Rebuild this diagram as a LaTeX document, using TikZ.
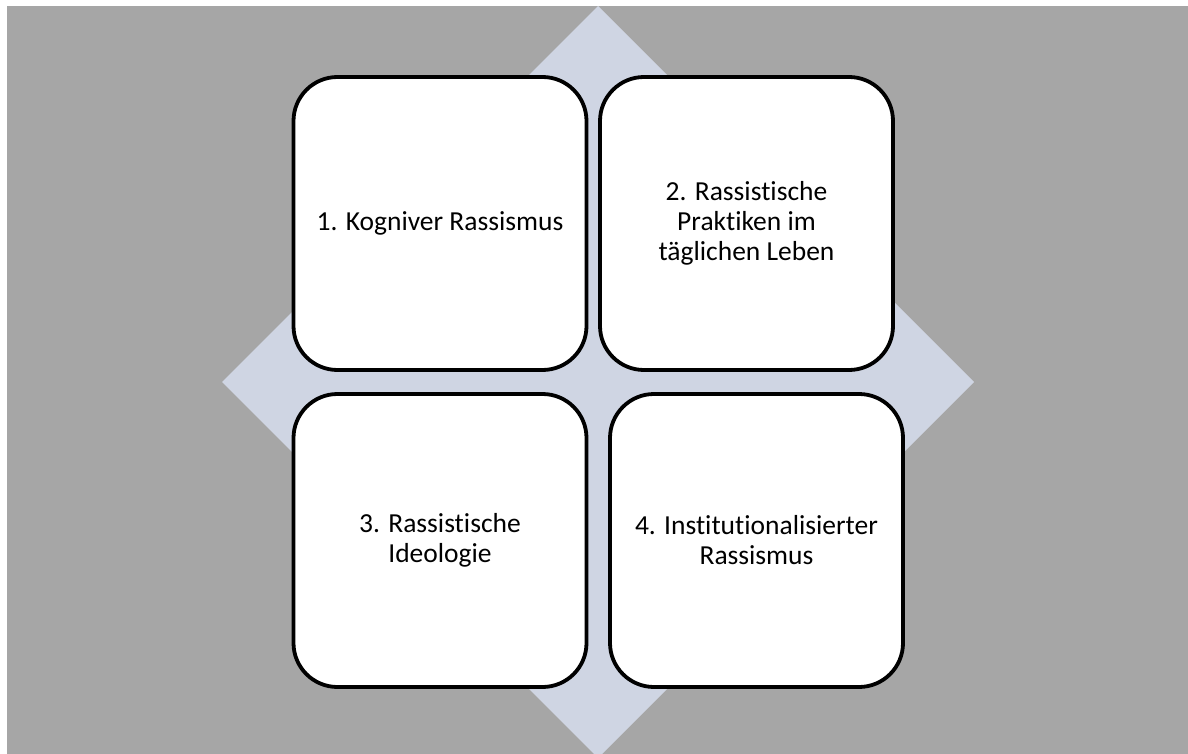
\documentclass[tikz,border=0pt]{standalone}
\usepackage{fontspec}
\setmainfont{Carlito}[Ligatures=NoCommon]
\definecolor{hgrau}{HTML}{A6A6A6}
\definecolor{raute}{HTML}{CFD5E3}

\begin{document}
\begin{tikzpicture}[x=1pt,y=-1pt]
\tikzstyle{every node}+=[inner sep=0pt]
\tikzstyle{feld}=[draw=black, line width=3.8pt, fill=white, rounded corners=44pt,
  minimum width=293pt, minimum height=293pt, align=center,
  font=\fontsize{27.5}{30}\selectfont]
\useasboundingbox (0,0) rectangle (1188,754);
\fill [white] (0,0) rectangle (1188,754);
\fill [hgrau] (7,6) rectangle (1188,754);
\begin{scope}
\clip (7,6) rectangle (1188,754);
\fill [raute] (598,6) -- (974,382) -- (598,758) -- (222,382) -- cycle;
\end{scope}
\node [feld] (f1) at (440,223.5) {1. Kogniver Rassismus};
\node [feld] (f2) at (746.5,223.5) {2. Rassistische\\Praktiken im\\täglichen Leben};
\node [feld] (f3) at (440,540.5) {3. Rassistische\\Ideologie};
\node [feld] (f4) at (756.5,540.5) {4. Institutionalisierter\\Rassismus};
\end{tikzpicture}
\end{document}
